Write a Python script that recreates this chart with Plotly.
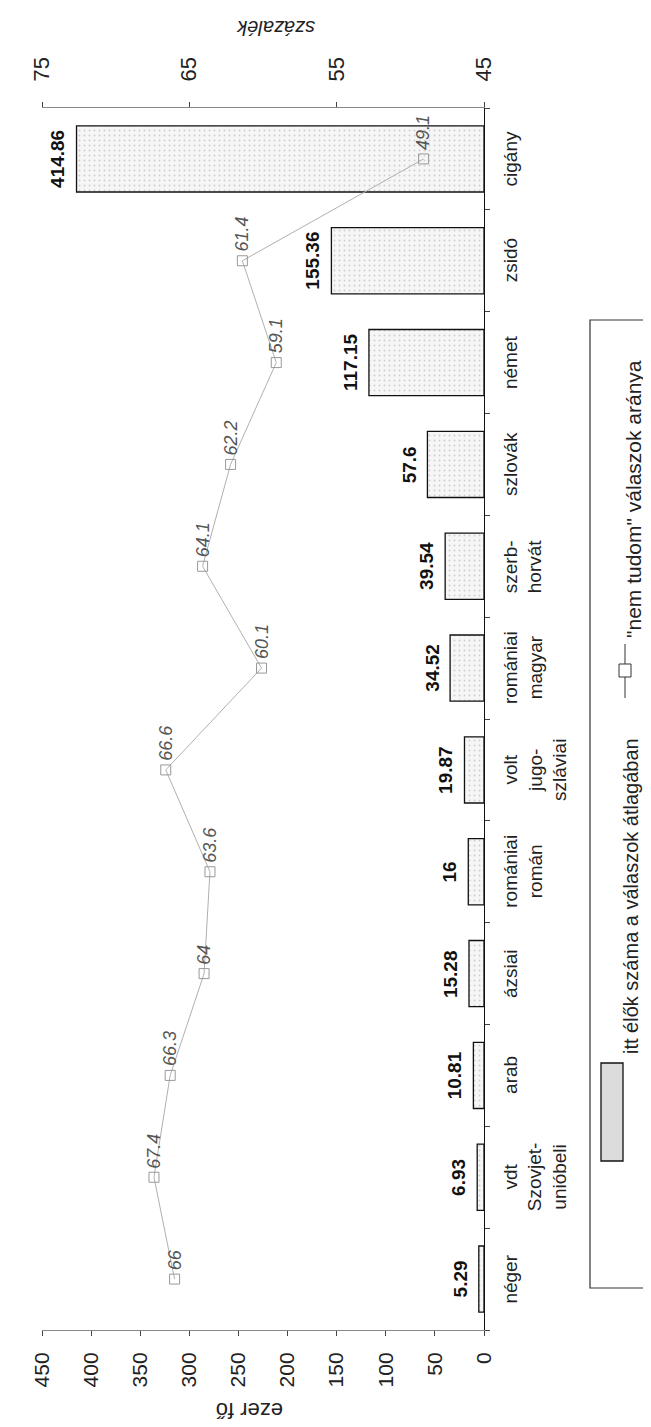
import plotly.graph_objects as go

categories = ["néger", "volt Szovjet-unióbeli", "arab", "ázsiai", "romániai román",
              "volt jugoszláviai", "romániai magyar", "szerb-horvát", "szlovák",
              "német", "zsidó", "cigány"]
category_labels = ["néger", "vdt<br>Szovjet-<br>unióbeli", "arab", "ázsiai", "romániai<br>román",
                   "volt<br>jugo-<br>szláviai", "romániai<br>magyar", "szerb-<br>horvát", "szlovák",
                   "német", "zsidó", "cigány"]
population = [5.29, 6.93, 10.81, 15.28, 16, 19.87, 34.52, 39.54, 57.6, 117.15, 155.36, 414.86]
dont_know = [66, 67.4, 66.3, 64, 63.6, 66.6, 60.1, 64.1, 62.2, 59.1, 61.4, 49.1]
pop_ticks = [0, 50, 100, 150, 200, 250, 300, 350, 400, 450]
pct_ticks = [45, 55, 65, 75]

FONT = "Liberation Sans, Arial, sans-serif"
W, H = 651, 1427
L, R, T, B = 34, 476, 100, 1322


def px(x):
    return (x - L) / (R - L)


def py(y):
    return (B - y) / (B - T)


fig = go.Figure()
fig.add_trace(go.Bar(
    x=population, y=categories, orientation="h", width=0.65,
    marker=dict(color="#f2f2f2",
                line=dict(color="#111", width=1.3),
                pattern=dict(shape=".", fgcolor="#a8a8a8", bgcolor="#f6f6f6", size=5, solidity=0.12)),
    hoverinfo="skip"))
fig.add_trace(go.Scatter(
    x=dont_know, y=categories, xaxis="x2", mode="lines+markers",
    line=dict(color="#b0b0b0", width=1),
    marker=dict(symbol="square-open", size=10, color="#999", line=dict(width=1)),
    hoverinfo="skip"))

ann = []
for c, lab, v, p in zip(categories, category_labels, population, dont_know):
    ann.append(dict(xref="x", yref="y", x=v, y=c, text=f"{v:g}", showarrow=False,
                    xanchor="right", xshift=-6, textangle=-90,
                    font=dict(family=FONT, size=19, color="#111", weight="bold")))
    ann.append(dict(xref="x", yref="y", x=0, y=c, text=lab, showarrow=False,
                    xanchor="left", xshift=14, textangle=-90, align="center",
                    font=dict(family=FONT, size=19, color="#222")))
    ann.append(dict(xref="x2", yref="y", x=p, y=c, text=f"{p:g}", showarrow=False,
                    yanchor="bottom", yshift=7, textangle=-90,
                    font=dict(family=FONT, size=18, color="#555", style="italic")))

# axis titles (upside down, as in the rotated reference)
ann.append(dict(xref="paper", yref="paper", x=px(242), y=py(1403), text="ezer fő", showarrow=False,
                xanchor="center", yanchor="middle",
                textangle=180, font=dict(family=FONT, size=22, color="#222")))
ann.append(dict(xref="paper", yref="paper", x=px(268), y=py(20), text="százalék", showarrow=False,
                xanchor="center", yanchor="middle",
                textangle=180, font=dict(family=FONT, size=20, color="#222", style="italic")))

# legend (drawn rotated like the reference)
ann.append(dict(xref="paper", yref="paper", x=px(623), y=py(1048), text="itt élők száma a válaszok átlagában",
                showarrow=False, textangle=-90, yanchor="bottom", xanchor="center",
                font=dict(family=FONT, size=20, color="#222")))
ann.append(dict(xref="paper", yref="paper", x=px(625), y=py(632), text='"nem tudom" válaszok aránya',
                showarrow=False, textangle=-90, yanchor="bottom", xanchor="center",
                font=dict(family=FONT, size=21, color="#222")))

shapes = [
    dict(type="rect", xref="paper", yref="paper", x0=px(582), x1=px(660), y0=py(1280), y1=py(312),
         line=dict(color="#333", width=1.2), fillcolor="rgba(0,0,0,0)"),
    dict(type="rect", xref="paper", yref="paper", x0=px(593), x1=px(615), y0=py(1153), y1=py(1055),
         line=dict(color="#111", width=1.3), fillcolor="#dcdcdc"),
    dict(type="line", xref="paper", yref="paper", x0=px(617), x1=px(617), y0=py(690), y1=py(636),
         line=dict(color="#333", width=1)),
    dict(type="rect", xref="paper", yref="paper", x0=px(611), x1=px(623), y0=py(669), y1=py(656),
         line=dict(color="#333", width=1), fillcolor="white"),
]

fig.update_layout(
    width=W, height=H,
    margin=dict(l=L, r=W - R, t=T, b=H - B),
    paper_bgcolor="white", plot_bgcolor="white",
    showlegend=False, bargap=0.35,
    font=dict(family=FONT, color="#222"),
    xaxis=dict(range=[450, 0], tickvals=pop_ticks, tickangle=-90,
               tickfont=dict(size=21, family=FONT), ticks="outside", ticklen=5,
               ticklabelstandoff=8,
               showline=True, linecolor="#888", linewidth=1, showgrid=False, zeroline=False),
    xaxis2=dict(range=[75, 45], overlaying="x", side="top", anchor="y", tickvals=pct_ticks,
                tickangle=-90, tickfont=dict(size=22, family=FONT), ticks="outside", ticklen=5,
                ticklabelstandoff=16,
                showline=True, linecolor="#888", linewidth=1, showgrid=False, zeroline=False),
    yaxis=dict(type="category", categoryorder="array", categoryarray=categories,
               range=[-0.5, len(categories) - 0.5], side="right", showticklabels=False,
               ticks="outside", tickson="boundaries", ticklen=5,
               showline=True, linecolor="#111", linewidth=1.2, showgrid=False, zeroline=False),
    annotations=ann, shapes=shapes,
)

fig.write_html("out.html")
